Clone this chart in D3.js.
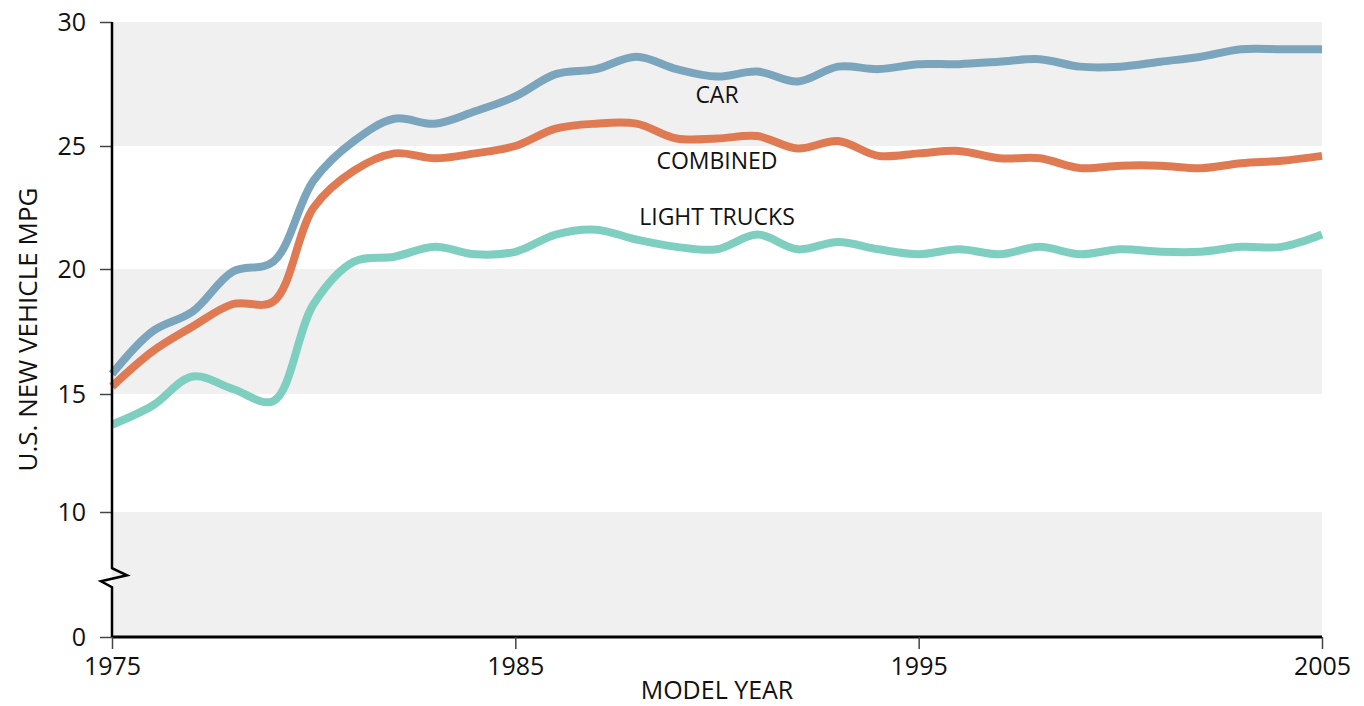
<!DOCTYPE html>
<html>
<head>
<meta charset="utf-8">
<script src="https://cdn.jsdelivr.net/npm/d3@7"></script>
<style>
  body { margin: 0; background: #fff; }
  text { font-family: "Open Sans", "Noto Sans", sans-serif; fill: #111; }
</style>
</head>
<body>
<div id="chart"></div>
<script>
// model years 1975..2005
const years = d3.range(1975, 2006);

// U.S. new vehicle mpg
const car = [15.8, 17.5, 18.3, 19.9, 20.3, 23.6, 25.2, 26.1, 25.9, 26.4, 27.0, 27.9, 28.1, 28.6, 28.1, 27.8,
  28.0, 27.6, 28.2, 28.1, 28.3, 28.3, 28.4, 28.5, 28.2, 28.2, 28.4, 28.6, 28.9, 28.9, 28.9];
const combined = [15.3, 16.7, 17.7, 18.6, 18.7, 22.5, 24.0, 24.7, 24.5, 24.7, 25.0, 25.7, 25.9, 25.9, 25.3, 25.3,
  25.4, 24.9, 25.2, 24.6, 24.7, 24.8, 24.5, 24.5, 24.1, 24.2, 24.2, 24.1, 24.3, 24.4, 24.6];
const trucks = [13.7, 14.5, 15.7, 15.2, 14.7, 18.6, 20.3, 20.5, 20.9, 20.6, 20.7, 21.4, 21.6, 21.2, 20.9, 20.8,
  21.4, 20.8, 21.1, 20.8, 20.6, 20.8, 20.6, 20.9, 20.6, 20.8, 20.7, 20.7, 20.9, 20.9, 21.4];

const xTicks = [1975, 1985, 1995, 2005];
const yTicks = [0, 10, 15, 20, 25, 30];
const bands = [[25, 30], [15, 20], [0, 10]];

const seriesNames = ["CAR", "COMBINED", "LIGHT TRUCKS"];
const seriesValues = [car, combined, trucks];
const seriesColors = ["#7ba5bd", "#e07a52", "#7ecfbf"];
// where each series name sits (year, mpg)
const labelYear = [1990, 1990, 1990];
const labelMpg = [27.05, 24.4, 22.1];

const width = 1364, height = 706;

const x = d3.scaleLinear().domain([1975, 2005]).range([112, 1322]);
// broken axis: 0-10 squeezed below the break
const y = d3.scaleLinear().domain([0, 10, 15, 20, 25, 30]).range([637, 512, 394, 269, 146, 22]);

const svg = d3.select("#chart").append("svg")
    .attr("width", width)
    .attr("height", height);

// alternating bands
svg.append("g").selectAll("rect")
    .data(bands)
    .join("rect")
    .attr("x", x(1975))
    .attr("width", x(2005) - x(1975))
    .attr("y", d => y(d[1]))
    .attr("height", d => y(d[0]) - y(d[1]))
    .attr("fill", "#f0f0f0");

// lines
const line = d3.line()
    .x(d => x(d[0]))
    .y(d => y(d[1]))
    .curve(d3.curveCatmullRom.alpha(0.5));

svg.append("g").selectAll("path")
    .data(seriesValues)
    .join("path")
    .attr("d", vals => line(years.map((yr, i) => [yr, vals[i]])))
    .attr("fill", "none")
    .attr("stroke", (d, i) => seriesColors[i])
    .attr("stroke-width", 8)
    .attr("stroke-linejoin", "round")
    .attr("stroke-linecap", "butt");

// series labels
svg.append("g").selectAll("text")
    .data(seriesNames)
    .join("text")
    .attr("x", (d, i) => x(labelYear[i]))
    .attr("y", (d, i) => y(labelMpg[i]))
    .attr("text-anchor", "middle")
    .attr("dy", "0.35em")
    .style("font-size", "23px")
    .text(d => d);

// y axis ticks + labels
const yAxis = svg.append("g")
    .attr("transform", `translate(${x(1975)},0)`)
    .call(d3.axisLeft(y).tickValues(yTicks).tickSize(12).tickPadding(14).tickFormat(d3.format("d")));
yAxis.select(".domain").remove();
yAxis.selectAll(".tick line").attr("stroke", "#444").attr("stroke-width", 1.5);
yAxis.selectAll(".tick text").style("font-size", "25px").attr("fill", "#111");

// y axis line with break zigzag
const brk = y(10) + (y(0) - y(10)) * 0.45;
svg.append("path")
    .attr("d", `M${x(1975)},${y(30)}V${brk}L${x(1975) + 15},${brk + 7}L${x(1975) - 11},${brk + 13}L${x(1975)},${brk + 19}V${y(0)}`)
    .attr("fill", "none")
    .attr("stroke", "#000")
    .attr("stroke-width", 2.5);

// x axis
const xAxis = svg.append("g")
    .attr("transform", `translate(0,${y(0)})`)
    .call(d3.axisBottom(x).tickValues(xTicks).tickSize(12).tickPadding(8).tickFormat(d3.format("d")));
xAxis.select(".domain").attr("stroke", "#000").attr("stroke-width", 3)
    .attr("d", `M${x(1975)},0H${x(2005)}`);
xAxis.selectAll(".tick line").attr("stroke", "#444").attr("stroke-width", 1.5);
xAxis.selectAll(".tick text").style("font-size", "25px").attr("fill", "#111");

// axis titles
svg.append("text")
    .attr("x", x(1990))
    .attr("y", 699)
    .attr("text-anchor", "middle")
    .style("font-size", "25px")
    .text("MODEL YEAR");

svg.append("text")
    .attr("transform", `translate(37,${(y(30) + y(0)) / 2}) rotate(-90)`)
    .attr("text-anchor", "middle")
    .style("font-size", "26px")
    .text("U.S. NEW VEHICLE MPG");
</script>
</body>
</html>
